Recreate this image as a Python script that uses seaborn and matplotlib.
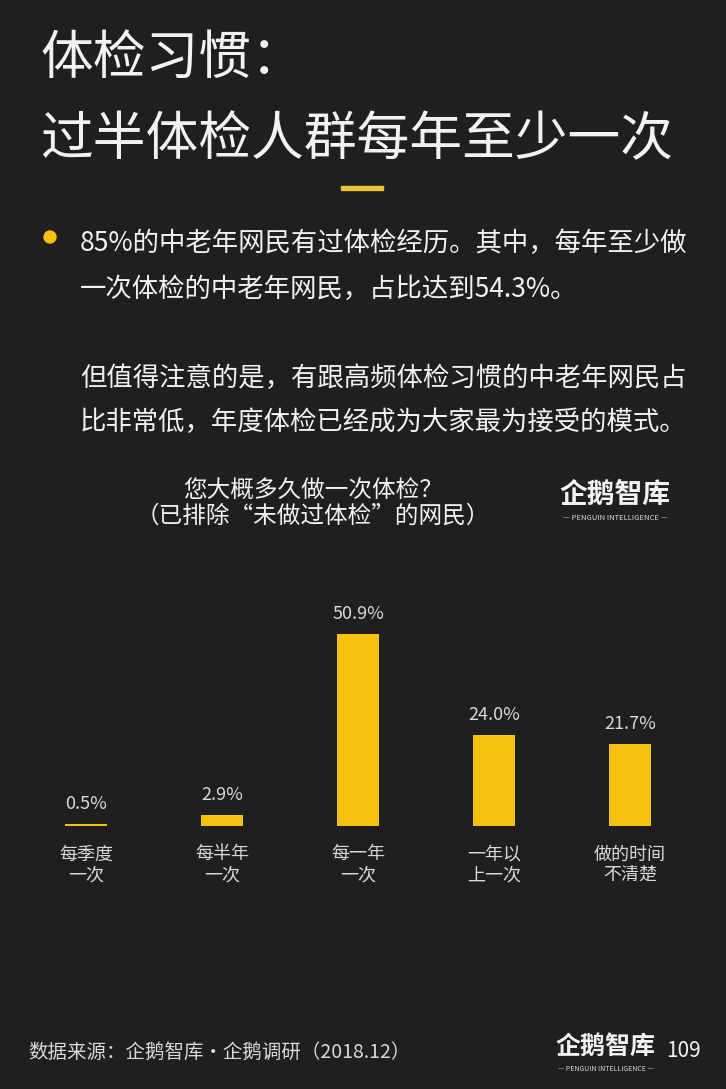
"""体检习惯：您大概多久做一次体检 — bar chart on a dark poster."""

import matplotlib
import pandas as pd
import seaborn as sns
from matplotlib.patches import Ellipse, Rectangle

matplotlib.use("Agg")
import matplotlib.pyplot as plt

# data
categories = ["每季度\n一次", "每半年\n一次", "每一年\n一次", "一年以\n上一次", "做的时间\n不清楚"]
shares = [0.5, 2.9, 50.9, 24.0, 21.7]
value_labels = ["0.5%", "2.9%", "50.9%", "24.0%", "21.7%"]

title_lines = ["体检习惯：", "过半体检人群每年至少一次"]
paragraph_lines = [
    "85%的中老年网民有过体检经历。其中，每年至少做",
    "一次体检的中老年网民，占比达到54.3%。",
    "但值得注意的是，有跟高频体检习惯的中老年网民占",
    "比非常低，年度体检已经成为大家最为接受的模式。",
]
chart_title = "您大概多久做一次体检？\n（已排除“未做过体检”的网民）"
source_note = "数据来源：企鹅智库·企鹅调研（2018.12）"
brand = "企鹅智库"
brand_sub = "— PENGUIN INTELLIGENCE —"
page_no = "109"

BG = "#1f1f1f"
YELLOW = "#f7c10f"
WHITE = "#f2f2f2"
GREY = "#d9d9d9"

sns.set_theme(style="white")
plt.rcParams["font.family"] = ["Noto Sans CJK SC", "DejaVu Sans"]

W, H = 726, 1089
fig = plt.figure(figsize=(W / 100, H / 100), dpi=100, facecolor=BG)


def fx(px):
    return px / W


def fy(py):
    return 1 - py / H


# headline
fig.text(fx(40), fy(58), title_lines[0], color=WHITE, fontsize=38, va="center", ha="left",
         fontweight="light")
fig.text(fx(40), fy(140), title_lines[1], color=WHITE, fontsize=38, va="center", ha="left",
         fontweight="light")
fig.patches.append(Rectangle((fx(341), fy(190)), fx(42), 4 / H, transform=fig.transFigure,
                             color="#e8c23a", zorder=3))

# bullet paragraph
fig.patches.append(Ellipse((fx(50), fy(237)), 12 / W, 12 / H, transform=fig.transFigure,
                           color=YELLOW, zorder=3))
for y, line in zip([243, 289, 378, 422], paragraph_lines):
    fig.text(fx(80), fy(y), line, color=WHITE, fontsize=19, va="center", ha="left",
             fontweight="light")

# chart title and brand
fig.text(fx(313), fy(504), chart_title, color=WHITE, fontsize=17, va="center", ha="center",
         linespacing=1.1)
fig.text(fx(615), fy(495), brand, color=WHITE, fontsize=20, va="center", ha="center",
         fontweight="bold")
fig.text(fx(615), fy(518), brand_sub, color=GREY, fontsize=5.5, va="center", ha="center")

# bars
df = pd.DataFrame({"category": categories, "share": shares})
ax = fig.add_axes([fx(18), 1 - 826 / H, fx(680), 246 / H])
ax.set_facecolor("none")
sns.barplot(data=df, x="category", y="share", color=YELLOW, width=0.31, saturation=1,
            linewidth=0, ax=ax)
ax.bar_label(ax.containers[0], labels=value_labels, padding=8, color=GREY, fontsize=13)
ax.set_ylim(0, 65.2)
ax.set_xlabel("")
ax.set_ylabel("")
ax.set_yticks([])
ax.tick_params(axis="x", length=0, pad=14, labelsize=13, labelcolor=GREY)
for label in ax.get_xticklabels():
    label.set_linespacing(1.2)
sns.despine(ax=ax, left=True, bottom=True)

# footer
fig.text(fx(28), fy(1052), source_note, color=GREY, fontsize=14, va="center", ha="left")
fig.text(fx(606), fy(1047), brand, color=WHITE, fontsize=18, va="center", ha="center",
         fontweight="bold")
fig.text(fx(606), fy(1069), brand_sub, color=GREY, fontsize=5, va="center", ha="center")
fig.text(fx(666), fy(1051), page_no, color=WHITE, fontsize=15, va="center", ha="left")

fig.savefig("out.png", dpi=100, facecolor=BG)
plt.close(fig)
